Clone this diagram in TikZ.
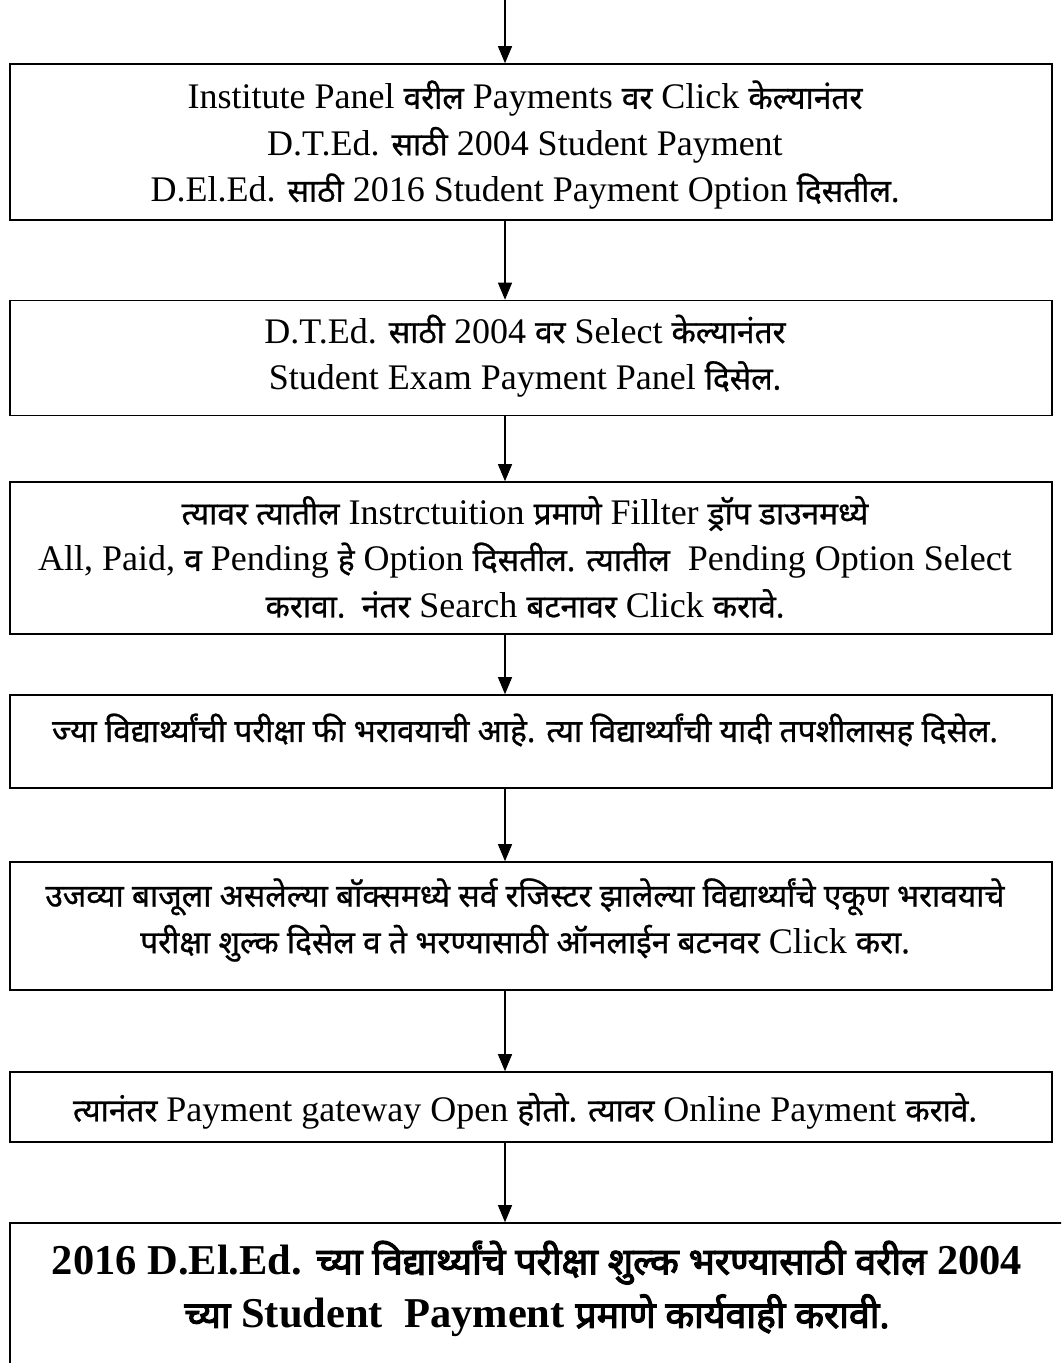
\documentclass[tikz,border=0pt]{standalone}
\usepackage{fontspec}
\setmainfont{Liberation Serif}
\newfontfamily\devafont[Script=Devanagari, Scale=0.88, UprightFeatures={FakeBold=0.8}, BoldFont={Noto Sans}, BoldFeatures={FakeBold=3}]{Noto Sans}
\newcommand{\deva}[1]{{\devafont #1}}
\usetikzlibrary{arrows.meta}
\tikzset{
  stepbox/.style={draw=black, line width=1.6pt, rectangle, inner sep=0pt, minimum width=1042pt},
  steptext/.style={align=center, inner sep=0pt, font=\fontsize{36}{46.5}\selectfont},
  boldtext/.style={align=center, inner sep=0pt, font=\fontsize{42.5}{53.5}\selectfont\bfseries},
  flow/.style={line width=1.1pt, -{Triangle[length=17pt,width=14pt]}}
}
\begin{document}
\begin{tikzpicture}[x=1pt,y=-1pt]
\useasboundingbox (0,0) rectangle (1061,1363);
\clip (0,0) rectangle (1061,1363);
\fill[white] (0,0) rectangle (1061,1363);
\coordinate (start) at (505,0);
% boxes
\node[stepbox, minimum height=156pt] (b1) at (531,142) {};
\node[stepbox, minimum height=115pt] (b2) at (531,358) {};
\node[stepbox, minimum height=152pt] (b3) at (531,558) {};
\node[stepbox, minimum height=93pt]  (b4) at (531,741.5) {};
\node[stepbox, minimum height=128pt] (b5) at (531,926) {};
\node[stepbox, minimum height=70pt]  (b6) at (531,1107) {};
\node[stepbox, minimum height=170pt, minimum width=1070pt] (b7) at (545,1308) {};
% texts
\node[steptext] (t1) at (525,145) {Institute Panel \deva{वरील} Payments \deva{वर} Click \deva{केल्यानंतर}\\
D.T.Ed. \deva{साठी} 2004 Student Payment\\
D.El.Ed. \deva{साठी} 2016 Student Payment Option \deva{दिसतील.}};
\node[steptext] (t2) at (525,356) {D.T.Ed. \deva{साठी} 2004 \deva{वर} Select \deva{केल्यानंतर}\\
Student Exam Payment Panel \deva{दिसेल.}};
\node[steptext] (t3) at (525,557) {\deva{त्यावर त्यातील} Instrctuition \deva{प्रमाणे} Fillter \deva{ड्रॉप डाउनमध्ये}\\
All, Paid, \deva{व} Pending \deva{हे} Option \deva{दिसतील. त्यातील}\ \ Pending Option Select\\
\deva{करावा.\ \ नंतर} Search \deva{बटनावर} Click \deva{करावे.}};
\node[steptext] (t4) at (525,730) {\deva{ज्या विद्यार्थ्यांची परीक्षा फी भरावयाची आहे. त्या विद्यार्थ्यांची यादी तपशीलासह दिसेल.}};
\node[steptext] (t5) at (525,920) {\deva{उजव्या बाजूला असलेल्या बॉक्समध्ये सर्व रजिस्टर झालेल्या विद्यार्थ्यांचे एकूण भरावयाचे}\\
\deva{परीक्षा शुल्क दिसेल व ते भरण्यासाठी ऑनलाईन बटनवर} Click \deva{करा.}};
\node[steptext] (t6) at (525,1111) {\deva{त्यानंतर} Payment gateway Open \deva{होतो. त्यावर} Online Payment \deva{करावे.}};
\node[boldtext] (t7) at (537,1289) {2016 D.El.Ed. \deva{च्या विद्यार्थ्यांचे परीक्षा शुल्क भरण्यासाठी वरील} 2004\\
\deva{च्या} Student\ \ Payment \deva{प्रमाणे कार्यवाही करावी.}};
% connectors
\draw[flow] (start) -- (b1.north -| start);
\draw[flow] (b1.south -| start) -- (b2.north -| start);
\draw[flow] (b2.south -| start) -- (b3.north -| start);
\draw[flow] (b3.south -| start) -- (b4.north -| start);
\draw[flow] (b4.south -| start) -- (b5.north -| start);
\draw[flow] (b5.south -| start) -- (b6.north -| start);
\draw[flow] (b6.south -| start) -- (b7.north -| start);
\end{tikzpicture}
\end{document}
